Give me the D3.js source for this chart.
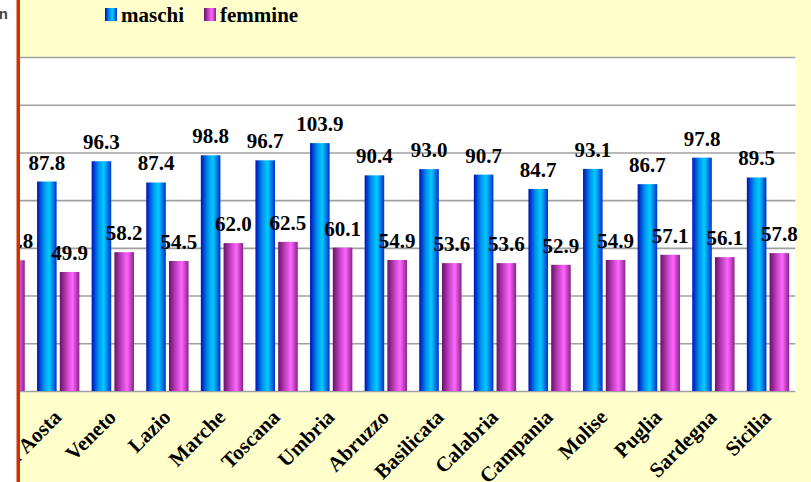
<!DOCTYPE html>
<html>
<head>
<meta charset="utf-8">
<script src="https://cdn.jsdelivr.net/npm/d3@7"></script>
<style>
  body { margin: 0; background: #ffffff; }
  svg { display: block; }
  .lbl { font-family: "Liberation Serif", "Times New Roman", serif; font-weight: bold; font-size: 21px; fill: #000; }
</style>
</head>
<body>
<div id="chart"></div>
<script>

// data (first region is cut off at the left edge)
var regions = ["Piemonte", "Valle d'Aosta", "Veneto", "Lazio", "Marche", "Toscana", "Umbria",
  "Abruzzo", "Basilicata", "Calabria", "Campania", "Molise", "Puglia", "Sardegna", "Sicilia"];
var maschi = [89.0, 87.8, 96.3, 87.4, 98.8, 96.7, 103.9, 90.4, 93.0, 90.7, 84.7, 93.1, 86.7, 97.8, 89.5];
var femmine = [54.8, 49.9, 58.2, 54.5, 62.0, 62.5, 60.1, 54.9, 53.6, 53.6, 52.9, 54.9, 57.1, 56.1, 57.8];
var seriesNames = ["maschi", "femmine"];
var yTicks = [0, 20, 40, 60, 80, 100, 120, 140];

var svgWidth = 811;
var svgHeight = 482;

// plot area (extends past the left edge, like the original screenshot)
var plot = { left: -23.7, right: 795.3, top: 57, bottom: 391 };

var svg = d3.select("#chart")
  .append("svg")
  .attr("width", svgWidth)
  .attr("height", svgHeight);

var defs = svg.append("defs");

// bar gradients
var gradBlue = defs.append("linearGradient").attr("id", "gBlue");
gradBlue.append("stop").attr("offset", "0%").attr("stop-color", "#0010b8");
gradBlue.append("stop").attr("offset", "35%").attr("stop-color", "#0090f0");
gradBlue.append("stop").attr("offset", "62%").attr("stop-color", "#00ccff");
gradBlue.append("stop").attr("offset", "100%").attr("stop-color", "#0030cc");

var gradPink = defs.append("linearGradient").attr("id", "gPink");
gradPink.append("stop").attr("offset", "0%").attr("stop-color", "#6a106a");
gradPink.append("stop").attr("offset", "35%").attr("stop-color", "#c040c0");
gradPink.append("stop").attr("offset", "65%").attr("stop-color", "#ff66ff");
gradPink.append("stop").attr("offset", "100%").attr("stop-color", "#882288");

var fills = { maschi: "url(#gBlue)", femmine: "url(#gPink)" };

defs.append("clipPath").attr("id", "cut")
  .append("rect")
  .attr("x", 20).attr("y", 0)
  .attr("width", svgWidth - 20).attr("height", svgHeight);

// stray text at the top-left corner
svg.append("text")
  .attr("x", 8)
  .attr("y", 19)
  .attr("text-anchor", "end")
  .style("font-family", "Liberation Sans, Arial, sans-serif")
  .style("font-weight", "bold")
  .style("font-size", "15px")
  .style("fill", "#444")
  .text("n");

var chartGroup = svg.append("g")
  .attr("clip-path", "url(#cut)");

// yellow chart background
chartGroup.append("rect")
  .attr("x", 0).attr("y", 0)
  .attr("width", svgWidth).attr("height", svgHeight)
  .attr("fill", "#ffffcc");

chartGroup.append("rect")
  .attr("x", plot.left).attr("y", plot.top)
  .attr("width", plot.right - plot.left)
  .attr("height", plot.bottom - plot.top)
  .attr("fill", "#ffffff");

// scales
var xScale = d3.scaleBand()
  .domain(regions)
  .range([plot.left, plot.right])
  .paddingInner(0.225)
  .paddingOuter(0.1125);

var xSub = d3.scaleBand()
  .domain(seriesNames)
  .range([0, xScale.bandwidth()])
  .paddingInner(0.14);

var yScale = d3.scaleLinear()
  .domain([0, 140])
  .range([plot.bottom, plot.top]);

// gridlines
var leftAxis = d3.axisLeft(yScale)
  .tickValues(yTicks)
  .tickSize(-(plot.right - plot.left))
  .tickFormat("");

var grid = chartGroup.append("g")
  .attr("transform", `translate(${plot.left}, 0)`)
  .call(leftAxis);
grid.select(".domain").remove();
grid.selectAll("line")
  .attr("stroke", "#a0a0a0")
  .attr("stroke-width", 1.6);

// bars and value labels
var rows = regions.map(function(r, i) {
  return { region: r, values: [
    { key: "maschi", value: maschi[i] },
    { key: "femmine", value: femmine[i] }
  ] };
});

var groups = chartGroup.selectAll(".grp")
  .data(rows)
  .enter()
  .append("g")
  .attr("class", "grp")
  .attr("transform", d => `translate(${xScale(d.region)}, 0)`);

groups.selectAll("rect")
  .data(d => d.values)
  .enter()
  .append("rect")
  .attr("x", d => xSub(d.key))
  .attr("y", d => yScale(d.value))
  .attr("width", xSub.bandwidth())
  .attr("height", d => yScale(0) - yScale(d.value))
  .attr("fill", d => fills[d.key]);

groups.selectAll("text")
  .data(d => d.values)
  .enter()
  .append("text")
  .attr("class", "lbl")
  .attr("x", d => xSub(d.key) + xSub.bandwidth() / 2)
  .attr("y", d => yScale(d.value) - 12)
  .attr("text-anchor", "middle")
  .text(d => d.value.toFixed(1));

// category labels, rotated
chartGroup.selectAll(".xlab")
  .data(regions)
  .enter()
  .append("text")
  .attr("class", "lbl")
  .attr("text-anchor", "end")
  .attr("transform", d => `translate(${xScale(d) + xScale.bandwidth() / 2 + 4.5}, 418.5) rotate(-45)`)
  .text(d => d);

// legend
var legend = chartGroup.selectAll(".leg")
  .data(seriesNames)
  .enter()
  .append("g")
  .attr("class", "leg")
  .attr("transform", (d, i) => `translate(${105 + i * 99}, 8)`);

legend.append("rect")
  .attr("width", 12)
  .attr("height", 13)
  .attr("fill", d => fills[d]);

legend.append("text")
  .attr("class", "lbl")
  .attr("x", 16)
  .attr("y", 13.5)
  .text(d => d);

// red border line at the left
svg.append("rect")
  .attr("x", 16.5)
  .attr("y", 0)
  .attr("width", 3.5)
  .attr("height", svgHeight)
  .attr("fill", "#cc3300");

</script>
</body>
</html>
